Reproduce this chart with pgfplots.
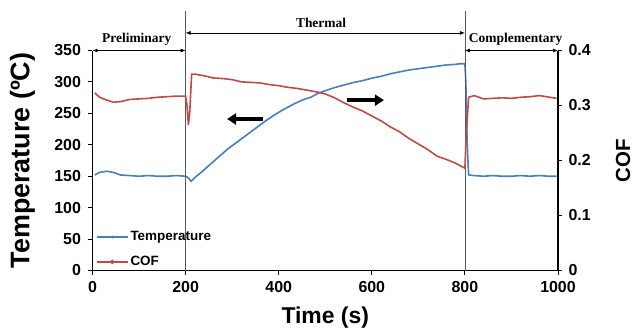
\documentclass[border=0pt]{standalone}
\usepackage{fontspec}
\setmainfont{Liberation Serif}
\setsansfont{Liberation Sans}
\usepackage{pgfplots}
\pgfplotsset{compat=1.18}
\usetikzlibrary{arrows.meta}
\definecolor{tblue}{RGB}{74,126,187}
\definecolor{cred}{RGB}{190,75,72}
\begin{document}
\begin{tikzpicture}
\useasboundingbox (-92.5bp,-63.5bp) rectangle (540.5bp,270.5bp);
\pgfplotsset{
  common/.style={
    scale only axis, width=465.5bp, height=220bp,
    at={(0,0)}, anchor=south west,
    xmin=0, xmax=1000, enlargelimits=false,
    axis line style={line width=1.3bp, black},
    tick align=outside, major tick length=4bp,
    tick style={line width=1bp, black},
    tick label style={font=\fontsize{16}{17}\selectfont\sffamily\bfseries},
    /pgf/number format/assume math mode=true,
    /pgf/number format/1000 sep={},
    clip=false,
  }
}
\begin{axis}[common,
  axis x line*=bottom, axis y line*=left,
  ymin=0, ymax=350,
  xtick={0,200,...,1000}, ytick={0,50,...,350},
  xticklabel style={yshift=-3bp},
  yticklabel style={xshift=-4bp},
  xlabel={Time (s)},
  xlabel style={at={(rel axis cs:0.5,0)}, anchor=center, yshift=-47bp, font=\fontsize{23}{24}\selectfont\sffamily\bfseries},
  ylabel={Temperature (ºC)},
  ylabel style={at={([xshift=-70bp]rel axis cs:0,0.5)}, anchor=center, font=\fontsize{27}{28}\selectfont\sffamily\bfseries},
]
\addplot[tblue, line width=1.6bp] coordinates {
(5,152)(15,156)(30,158)(45,156)(60,152)(80,151)(100,150)(120,151)(140,150)(160,150)(180,151)(200,150)
(205,148)(212,142)(220,148)(235,157)(250,167)(270,180)(290,193)(310,204)(330,215)(350,226)(370,237)
(390,247)(410,256)(430,264)(450,271)(470,276)(485,282)(500,286)(520,291)(540,295)(560,299)(580,302)
(600,306)(620,309)(640,313)(660,316)(680,319)(700,321)(720,323)(740,325)(760,327)(780,328)(790,329)(800,329)
(802,300)(805,200)(808,152)(820,151)(840,150)(860,151)(880,150)(900,150)(920,151)(940,150)(960,151)(980,150)(997,150)
};
% phase markers
\draw[gray!70!black, line width=0.8bp] (axis cs:200,0) -- (axis cs:200,413);
\draw[gray!70!black, line width=0.8bp] (axis cs:800,0) -- (axis cs:800,413);
\draw[{Latex[length=5bp,width=4bp]}-{Latex[length=5bp,width=4bp]}, line width=0.7bp] (axis cs:0,350) -- (axis cs:200,350);
\draw[{Latex[length=5bp,width=4bp]}-{Latex[length=5bp,width=4bp]}, line width=0.7bp] (axis cs:200,378) -- (axis cs:800,378);
\draw[{Latex[length=5bp,width=4bp]}-{Latex[length=5bp,width=4bp]}, line width=0.7bp] (axis cs:800,350) -- (axis cs:1000,350);
\node[font=\fontsize{13.5}{14}\selectfont\bfseries] at (axis cs:95,368) {Preliminary};
\node[font=\fontsize{13.5}{14}\selectfont\bfseries] at (axis cs:491,394) {Thermal};
\node[font=\fontsize{13.5}{14}\selectfont\bfseries] at (axis cs:909,368) {Complementary};
% direction arrows
\draw[-{Triangle[length=9bp,width=11bp]}, line width=3.5bp] (axis cs:366,241) -- (axis cs:289,241);
\draw[-{Triangle[length=9bp,width=11bp]}, line width=3.5bp] (axis cs:546,271) -- (axis cs:626,271);
\end{axis}
\begin{axis}[common,
  axis x line=none, axis y line*=right,
  ymin=0, ymax=0.4, ytick={0,0.1,0.2,0.3,0.4},
  yticklabel style={xshift=3bp},
  ylabel={COF},
  ylabel style={at={([xshift=65bp]rel axis cs:1,0.5)}, anchor=center, font=\fontsize{20.5}{21}\selectfont\sffamily\bfseries},
  legend style={at={(rel axis cs:0.005,0.0)}, anchor=south west, draw=none, fill=none,
    font=\fontsize{13.5}{14}\selectfont\sffamily\bfseries, row sep=10bp, inner sep=1bp},
  legend cell align=left,
  legend image code/.code={\draw[#1, line width=1.5bp] (0bp,0bp) -- (31bp,0bp); \fill[#1] (15.5bp,0bp) circle (1.3bp);},
]
\draw[black, line width=1.3bp] (rel axis cs:1,0) -- (rel axis cs:1,1);
\addlegendimage{tblue}
\addlegendentry{Temperature}
\addplot[cred, line width=1.6bp] coordinates {
(5,0.323)(15,0.315)(30,0.310)(45,0.306)(60,0.307)(80,0.311)(100,0.312)(120,0.313)(140,0.315)(160,0.316)(180,0.317)(200,0.317)
(203,0.300)(206,0.265)(209,0.290)(213,0.357)(220,0.357)(240,0.354)(260,0.350)(280,0.349)(300,0.347)(320,0.343)(340,0.342)
(360,0.341)(380,0.338)(400,0.336)(420,0.333)(440,0.331)(460,0.328)(480,0.325)(500,0.321)(520,0.314)(540,0.305)(560,0.297)
(580,0.290)(600,0.281)(620,0.272)(640,0.261)(660,0.252)(680,0.240)(700,0.230)(720,0.220)(740,0.208)(760,0.202)(780,0.195)(800,0.186)
(803,0.250)(808,0.315)(820,0.318)(840,0.312)(860,0.313)(880,0.314)(900,0.313)(920,0.315)(940,0.316)(960,0.318)(975,0.316)(997,0.313)
};
\addlegendentry{COF}
\end{axis}
\end{tikzpicture}
\end{document}
